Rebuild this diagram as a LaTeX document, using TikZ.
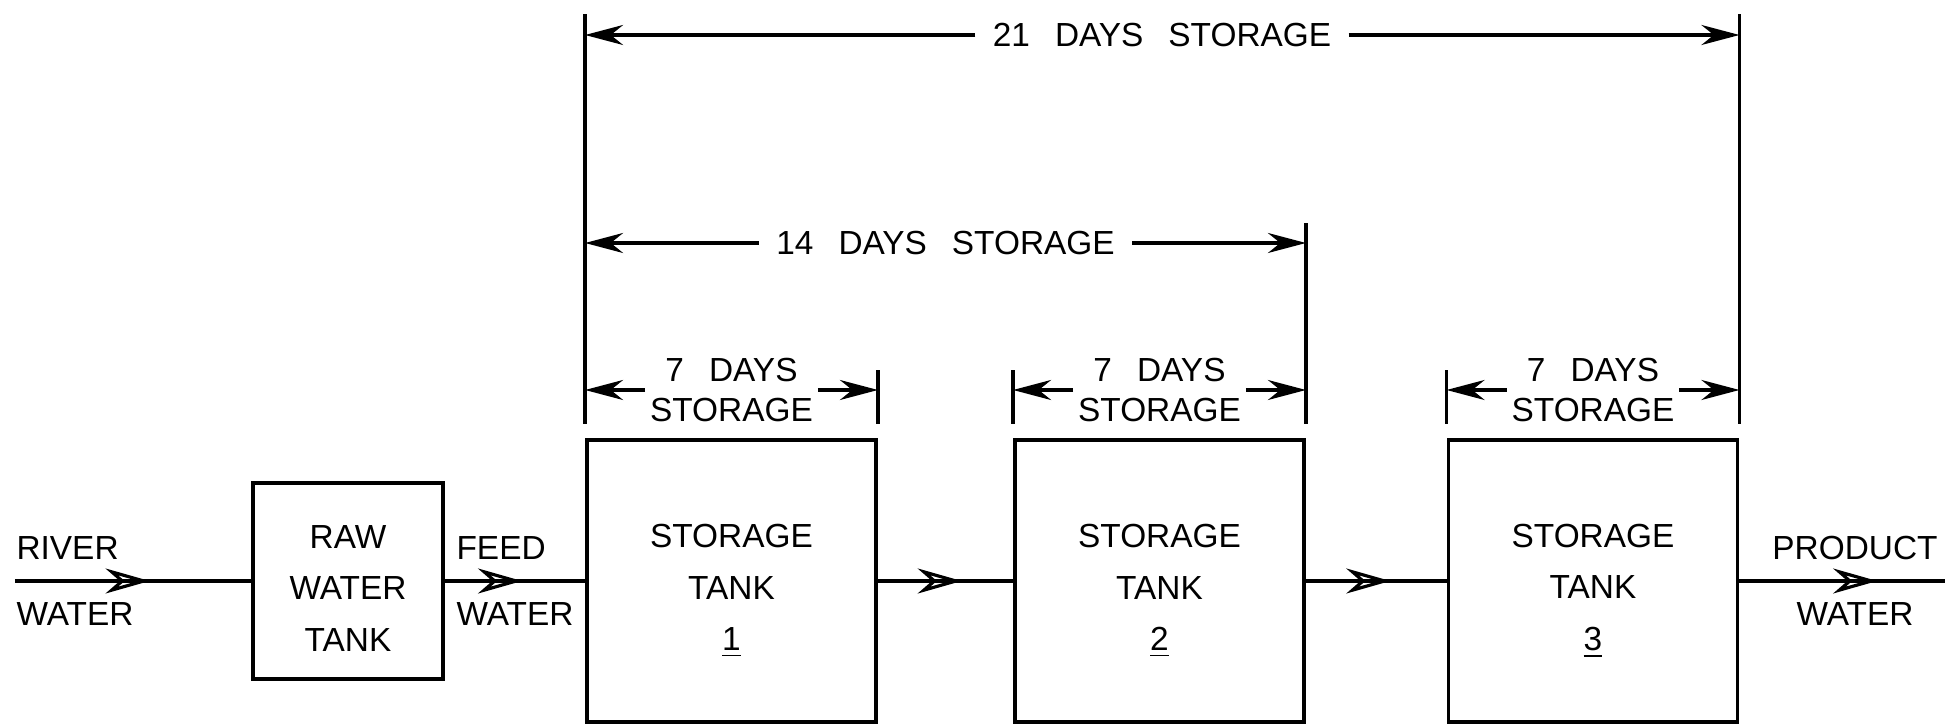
\documentclass[tikz,border=0pt]{standalone}
\usepackage{fontspec}
\setmainfont{Liberation Sans}
\usepackage{tikz}
\usetikzlibrary{calc,arrows.meta,decorations.markings}

\newcommand{\wsp}{\hspace{0.75em}}

\begin{document}
\begin{tikzpicture}[
  line width=0.9pt,
  every node/.style={font=\fontsize{9.5}{14.7}\selectfont, inner sep=0pt},
  box/.style={draw, line width=1.1pt},
  boxtxt/.style={align=center, yshift=-#1},
  boxtxt/.default=1mm,
  tank/.style={box, minimum width=2.89cm, minimum height=2.82cm},
  flowlbl/.style={align=center, font=\fontsize{9.5}{18.7}\selectfont},
  daylbl/.style={align=center, inner xsep=1pt, font=\fontsize{9.5}{11.3}\selectfont},
  spanlbl/.style={inner xsep=4.5pt},
  dim/.style={-{Stealth[length=3.8mm,width=2mm]}},
  flow/.style={postaction={decorate}, decoration={markings,
    mark=at position #1 with {\arrow{Stealth[open,length=4.4mm,width=2.5mm]}}}},
  flow/.default=0.58
]
\useasboundingbox (0,0) rectangle (19.45,-7.25);

\node[box, minimum width=1.9cm, minimum height=1.96cm,
  label={[boxtxt=0.75mm]center:{RAW\\WATER\\TANK}}] (raw) at (3.48,-5.81) {};
\node[tank, label={[boxtxt]center:{STORAGE\\TANK\\\underline{1}}}] (tank1) at (7.315,-5.81) {};
\node[tank, label={[boxtxt]center:{STORAGE\\TANK\\\underline{2}}}] (tank2) at (11.595,-5.81) {};
\node[tank, label={[boxtxt]center:{STORAGE\\TANK\\\underline{3}}}] (tank3) at (15.93,-5.81) {};

\node[flowlbl, align=left, anchor=west] (river) at (0.15,-5.81) {RIVER\\WATER};
\node[flowlbl, align=left] (feed) at ($(raw.east)!0.5!(tank1.west)$) {FEED\\WATER};
\node[flowlbl] (prod) at (18.55,-5.81) {PRODUCT\\WATER};
\coordinate (outlet) at (19.45,-5.81);

\draw[flow=0.57] (river.west) -- (raw.west);
\draw[flow=0.55] (raw.east) -- (tank1.west);
\draw[flow=0.62] (tank1.east) -- (tank2.west);
\draw[flow=0.6] (tank2.east) -- (tank3.west);
\draw[flow=0.67] (tank3.east) -- (outlet);

\coordinate (tickbot) at (0,-4.24);
\coordinate (top7) at (0,-3.70);
\coordinate (top14) at (0,-2.23);
\coordinate (top21) at (0,-0.14);
\coordinate (lvl7) at (0,-3.90);

\draw (tank1.north west |- tickbot) -- (tank1.north west |- top21);
\draw (tank1.north east |- tickbot) -- (tank1.north east |- top7);
\draw (tank2.north west |- tickbot) -- (tank2.north west |- top7);
\draw (tank2.north east |- tickbot) -- (tank2.north east |- top14);
\draw (tank3.north west |- tickbot) -- (tank3.north west |- top7);
\draw (tank3.north east |- tickbot) -- (tank3.north east |- top21);

\node[daylbl] (d1) at (tank1.north |- lvl7) {7\wsp DAYS\\STORAGE};
\node[daylbl] (d2) at (tank2.north |- lvl7) {7\wsp DAYS\\STORAGE};
\node[daylbl] (d3) at (tank3.north |- lvl7) {7\wsp DAYS\\STORAGE};
\draw[dim] (d1.west) -- (d1.west -| tank1.north west);
\draw[dim] (d1.east) -- (d1.east -| tank1.north east);
\draw[dim] (d2.west) -- (d2.west -| tank2.north west);
\draw[dim] (d2.east) -- (d2.east -| tank2.north east);
\draw[dim] (d3.west) -- (d3.west -| tank3.north west);
\draw[dim] (d3.east) -- (d3.east -| tank3.north east);

\node[spanlbl] (d14) at (9.455,-2.43) {14\wsp DAYS\wsp STORAGE};
\draw[dim] (d14.west) -- (d14.west -| tank1.north west);
\draw[dim] (d14.east) -- (d14.east -| tank2.north east);

\node[spanlbl] (d21) at (11.62,-0.35) {21\wsp DAYS\wsp STORAGE};
\draw[dim] (d21.west) -- (d21.west -| tank1.north west);
\draw[dim] (d21.east) -- (d21.east -| tank3.north east);
\end{tikzpicture}
\end{document}
